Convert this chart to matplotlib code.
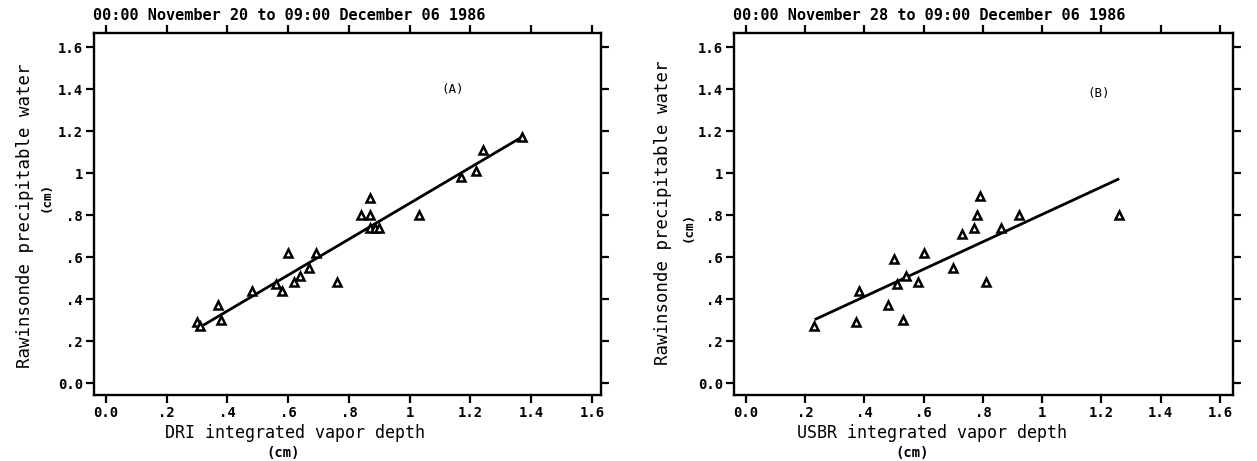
import matplotlib
matplotlib.use("Agg")
import matplotlib.pyplot as plt

# ---- data ----
dri_x = [0.30, 0.31, 0.37, 0.38, 0.48, 0.56, 0.58, 0.60, 0.62, 0.64, 0.67, 0.69,
         0.76, 0.84, 0.87, 0.87, 0.87, 0.885, 0.90, 1.03, 1.17, 1.22, 1.24, 1.37]
dri_y = [0.29, 0.27, 0.37, 0.30, 0.44, 0.47, 0.44, 0.62, 0.48, 0.51, 0.55, 0.62,
         0.48, 0.80, 0.80, 0.88, 0.74, 0.74, 0.74, 0.80, 0.98, 1.01, 1.11, 1.17]
dri_fit_x = [0.32, 1.37]
dri_fit_y = [0.275, 1.172]

usbr_x = [0.23, 0.37, 0.38, 0.48, 0.50, 0.51, 0.53, 0.54, 0.58, 0.60, 0.70, 0.73,
          0.77, 0.78, 0.79, 0.81, 0.86, 0.92, 1.26]
usbr_y = [0.27, 0.29, 0.44, 0.37, 0.59, 0.47, 0.30, 0.51, 0.48, 0.62, 0.55, 0.71,
          0.74, 0.80, 0.89, 0.48, 0.74, 0.80, 0.80]
usbr_fit_x = [0.232, 1.26]
usbr_fit_y = [0.302, 0.973]

ticks = [0.0, 0.2, 0.4, 0.6, 0.8, 1.0, 1.2, 1.4, 1.6]
tick_labels = ["0.0", ".2", ".4", ".6", ".8", "1", "1.2", "1.4", "1.6"]

titles = ["00:00 November 20 to 09:00 December 06 1986",
          "00:00 November 28 to 09:00 December 06 1986"]
xlabels = ["DRI integrated vapor depth", "USBR integrated vapor depth"]
ylabel = "Rawinsonde precipitable water"
unit = "(cm)"
panel_tags = ["(A)", "(B)"]

# ---- figure ----
W, H = 1257, 461
fig = plt.figure(figsize=(W / 100, H / 100), dpi=100)
mono = "DejaVu Sans Mono"

def fx(px):
    return px / W

def fy(py):
    return 1 - py / H

panels = [
    dict(box=(94, 601), xlim=(-0.0395, 1.63), x=dri_x, y=dri_y, fx_=dri_fit_x, fy_=dri_fit_y,
         tag_xy=(1.14, 1.40), title_x=93, xl=(295, 433), unit_x=(283, 453),
         yl=(25, 216), yunit=(46, 197)),
    dict(box=(734, 1233), xlim=(-0.0405, 1.644), x=usbr_x, y=usbr_y, fx_=usbr_fit_x, fy_=usbr_fit_y,
         tag_xy=(1.19, 1.38), title_x=733, xl=(932, 433), unit_x=(912, 453),
         yl=(663, 213), yunit=(688, 227)),
]

for i, p in enumerate(panels):
    l, r = p["box"]
    ax = fig.add_axes([fx(l), fy(395), (r - l) / W, (395 - 33) / H])
    ax.plot(p["fx_"], p["fy_"], color="black", lw=2.0, solid_capstyle="butt", zorder=2)
    ax.plot(p["x"], p["y"], linestyle="none", marker="^", ms=6, mfc="white",
            mec="black", mew=1.8, zorder=3)
    ax.set_xlim(*p["xlim"])
    ax.set_ylim(-0.057, 1.667)
    ax.set_xticks(ticks)
    ax.set_yticks(ticks)
    ax.set_xticklabels(tick_labels, fontfamily=mono, fontweight="bold", fontsize=10)
    ax.set_yticklabels(tick_labels, fontfamily=mono, fontweight="bold", fontsize=10)
    ax.tick_params(axis="both", direction="out", length=6, width=1.6,
                   top=True, right=True, labeltop=False, labelright=False, pad=2)
    for s in ax.spines.values():
        s.set_linewidth(1.7)
    ax.text(p["tag_xy"][0], p["tag_xy"][1], panel_tags[i], fontfamily=mono,
            fontsize=9, ha="center", va="center")
    fig.text(fx(p["title_x"]), fy(15), titles[i], fontfamily=mono, fontweight="bold",
             fontsize=11, ha="left", va="center")
    fig.text(fx(p["xl"][0]), fy(p["xl"][1]), xlabels[i], fontfamily=mono,
             fontsize=12, ha="center", va="center")
    fig.text(fx(p["unit_x"][0]), fy(p["unit_x"][1]), unit, fontfamily=mono,
             fontweight="bold", fontsize=10, ha="center", va="center")
    fig.text(fx(p["yl"][0]), fy(p["yl"][1]), ylabel, fontfamily=mono,
             fontsize=12.5, rotation=90, ha="center", va="center")
    fig.text(fx(p["yunit"][0]), fy(p["yunit"][1]), unit, fontfamily=mono,
             fontweight="bold", fontsize=9, rotation=90, ha="center", va="center")

fig.savefig("out.png", dpi=100, facecolor="white")
